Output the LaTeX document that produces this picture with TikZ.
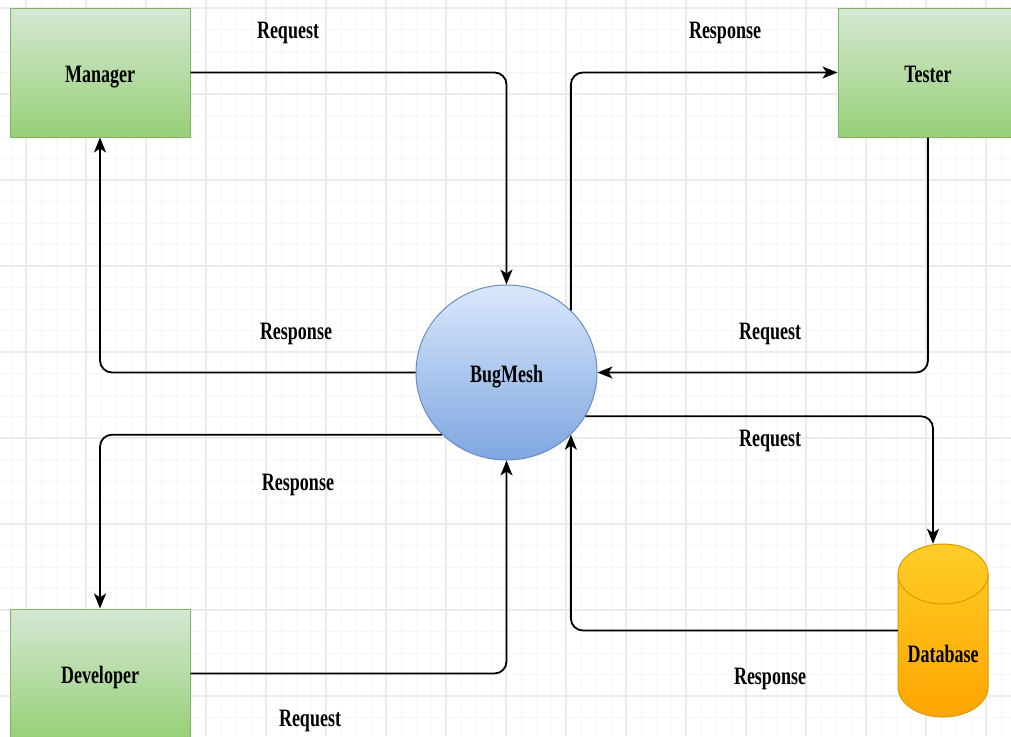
\documentclass[tikz,border=0pt]{standalone}
\usepackage{fontspec}
\setmainfont{Liberation Serif}
\usetikzlibrary{arrows.meta,shapes.geometric}

\definecolor{grnTop}{HTML}{D5E8D4}
\definecolor{grnBot}{HTML}{97D077}
\definecolor{grnLine}{HTML}{82B366}
\definecolor{bluTop}{HTML}{DAE8FC}
\definecolor{bluBot}{HTML}{7EA6E0}
\definecolor{bluLine}{HTML}{6C8EBF}
\definecolor{ylwTop}{HTML}{FFCD28}
\definecolor{ylwBot}{HTML}{FFA500}
\definecolor{ylwLine}{HTML}{D79B00}
\definecolor{gridMinor}{HTML}{F7F7F7}
\definecolor{gridMajor}{HTML}{EBEBEB}

% condensed lettering used for every caption
\newcommand{\narrowtxt}[1]{\scalebox{0.72}[1]{#1}}

\begin{document}
\begin{tikzpicture}[x=1pt,y=-1pt,
  txt/.style={font=\fontsize{25}{28}\selectfont\bfseries},
  actor/.style={txt, rectangle, draw=grnLine, line width=1pt,
    top color=grnTop, bottom color=grnBot,
    minimum width=180pt, minimum height=129pt, inner sep=0pt,
    text height=25pt, text depth=6pt},
  hub/.style={txt, ellipse, draw=bluLine, line width=1pt,
    top color=bluTop, bottom color=bluBot,
    minimum width=181pt, minimum height=175pt, inner sep=0pt,
    text height=25pt, text depth=6pt},
  store/.style={txt, rectangle, minimum width=90pt, minimum height=173pt,
    inner sep=0pt, text height=69pt, text depth=6pt},
  flowlbl/.style={txt, anchor=base, inner sep=0pt},
  conn/.style={draw=black, line width=1.8pt, rounded corners=12pt,
    -{Stealth[length=15pt,width=12pt,inset=4pt]}},
]
\clip (0,0) rectangle (1011,736);
\fill[white] (0,0) rectangle (1011,736);

% background grid
\foreach \x in {11,26,...,1011} \draw[gridMinor, line width=1pt] (\x,0) -- (\x,736);
\foreach \k in {0,...,34} \draw[gridMinor, line width=1pt] (0,{8+21.5*\k}) -- (1011,{8+21.5*\k});
\foreach \x in {26,86,...,986} \draw[gridMajor, line width=1.2pt] (\x,0) -- (\x,736);
\foreach \k in {0,...,8} \draw[gridMajor, line width=1.2pt] (0,{8+86*\k}) -- (1011,{8+86*\k});

% actors and the central system
\node[actor] (man) at (100,72.5) {\narrowtxt{Manager}};
\node[actor] (tes) at (928,72.5) {\narrowtxt{Tester}};
\node[actor] (dev) at (100,673.5) {\narrowtxt{Developer}};
\node[hub] (bug) at (506.5,372.5) {\narrowtxt{BugMesh}};

% database cylinder
\path[top color=ylwTop, bottom color=ylwBot, draw=ylwLine, line width=1pt]
  (898,574) -- (898,687)
  arc[start angle=180, end angle=360, x radius=45pt, y radius=30pt]
  -- (988,574)
  arc[start angle=0, end angle=180, x radius=45pt, y radius=30pt] -- cycle;
\draw[ylwLine, line width=1pt]
  (898,574) arc[start angle=180, end angle=360, x radius=45pt, y radius=30pt];
\node[store] (db) at (943,630.5) {\narrowtxt{Database}};

% data flows
\draw[conn] (man.east) -| (bug.north);
\draw[conn] (bug.west) -| (man.south);
\draw[conn] (bug.44) |- (tes.west);
\draw[conn] (tes.south) |- (bug.east);
\draw[conn] (bug.-29) -| ([xshift=-10pt]db.north);
\draw[conn] (db.west) -| (bug.-44.5);
\draw[conn] (bug.224) -| (dev.north);
\draw[conn] (dev.east) -| (bug.south);

% flow captions
\node[flowlbl] (l1) at (288,38) {\narrowtxt{Request}};
\node[flowlbl] (l2) at (725,38) {\narrowtxt{Response}};
\node[flowlbl] (l3) at (296,339) {\narrowtxt{Response}};
\node[flowlbl] (l4) at (770,339) {\narrowtxt{Request}};
\node[flowlbl] (l5) at (770,446) {\narrowtxt{Request}};
\node[flowlbl] (l6) at (298,490) {\narrowtxt{Response}};
\node[flowlbl] (l7) at (770,684) {\narrowtxt{Response}};
\node[flowlbl] (l8) at (310,726) {\narrowtxt{Request}};
\end{tikzpicture}
\end{document}
